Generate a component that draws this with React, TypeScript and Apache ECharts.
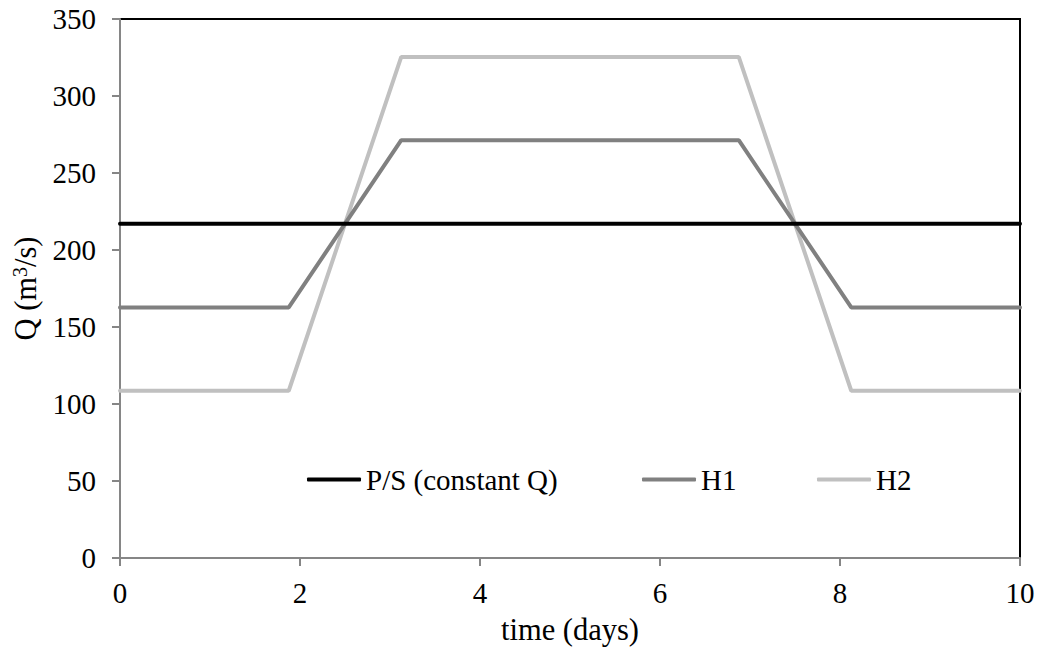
import React, { useEffect, useRef } from "react";
import * as echarts from "echarts";

const seriesNames = ["P/S (constant Q)", "H1", "H2"];
const psData: [number, number][] = [[0, 217], [10, 217]];
const h1Data: [number, number][] = [[0, 162.7], [1.875, 162.7], [3.125, 271.3], [6.875, 271.3], [8.125, 162.7], [10, 162.7]];
const h2Data: [number, number][] = [[0, 108.6], [1.875, 108.6], [3.125, 325.4], [6.875, 325.4], [8.125, 108.6], [10, 108.6]];
const seriesColors = ["#000000", "#808080", "#c0c0c0"];
const legendLefts = [307, 642, 817];

const FONT = "'Liberation Serif', 'Times New Roman', serif";

export default function App() {
  const ref = useRef<HTMLDivElement>(null);
  useEffect(() => {
    const chart = echarts.init(ref.current!, undefined, { renderer: "svg" });
    const datas = [psData, h1Data, h2Data];
    chart.setOption({
      animation: false,
      textStyle: { fontFamily: FONT, color: "#000" },
      grid: {
        left: 120,
        right: 18,
        top: 19,
        bottom: 97,
        show: true,
        borderColor: "#000",
        borderWidth: 2,
        backgroundColor: "#fff",
      },
      legend: seriesNames.map((name, i) => ({
        left: legendLefts[i],
        top: 465,
        padding: 0,
        icon: "roundRect",
        itemWidth: 54,
        itemHeight: 4,
        itemGap: 0,
        textStyle: { fontFamily: FONT, fontSize: 29, color: "#000" },
        data: [name],
      })),
      xAxis: {
        type: "value",
        min: 0,
        max: 10,
        interval: 2,
        name: "time (days)",
        nameLocation: "middle",
        nameGap: 56,
        nameTextStyle: { fontFamily: FONT, fontSize: 30.5, color: "#000" },
        axisLine: { show: true, lineStyle: { color: "#868686", width: 2 } },
        axisTick: { show: true, inside: false, length: 8, lineStyle: { color: "#868686", width: 2 } },
        axisLabel: { fontFamily: FONT, fontSize: 29, color: "#000", margin: 20 },
        splitLine: { show: false },
      },
      yAxis: {
        type: "value",
        min: 0,
        max: 350,
        interval: 50,
        name: "{a|Q (m}{s|3}{a|/s)}",
        nameLocation: "middle",
        nameGap: 73,
        nameRotate: 90,
        nameTextStyle: {
          fontFamily: FONT,
          fontSize: 30.5,
          color: "#000",
          rich: {
            a: { fontFamily: FONT, fontSize: 30.5, color: "#000" },
            s: { fontFamily: FONT, fontSize: 20, color: "#000", verticalAlign: "top", padding: [0, 0, 12, 0] },
          },
        },
        axisLine: { show: true, lineStyle: { color: "#868686", width: 2 } },
        axisTick: { show: true, inside: false, length: 8, lineStyle: { color: "#868686", width: 2 } },
        axisLabel: { fontFamily: FONT, fontSize: 29, color: "#000", margin: 24 },
        splitLine: { show: false },
      },
      series: seriesNames.map((name, i) => ({
        name,
        type: "line",
        data: datas[i],
        showSymbol: false,
        symbol: "none",
        color: seriesColors[i],
        itemStyle: { color: seriesColors[i] },
        lineStyle: { color: seriesColors[i], width: 4, cap: "round" },
        z: 5 - i,
      })),
    });
    return () => chart.dispose();
  }, []);
  return <div ref={ref} style={{ width: 1038, height: 655, position: "absolute", left: 0, top: 0 }} />;
}
